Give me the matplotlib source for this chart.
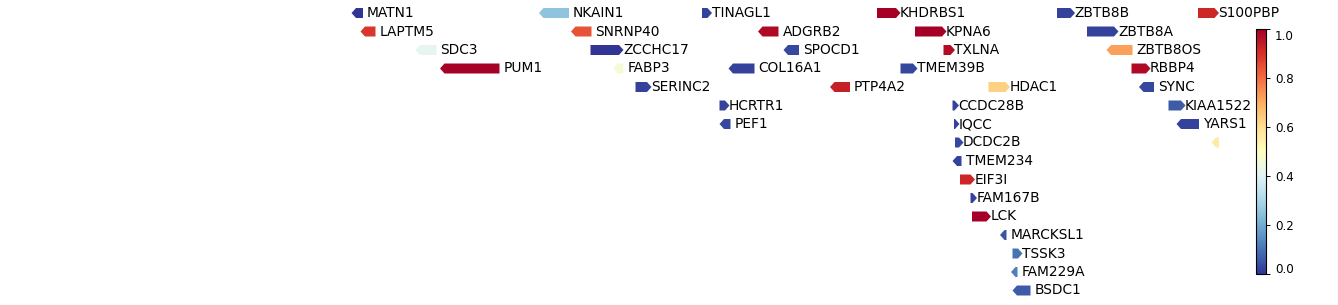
import matplotlib
matplotlib.use("Agg")
import matplotlib.pyplot as plt
import numpy as np
from matplotlib.colors import Normalize
from matplotlib.cm import ScalarMappable
from matplotlib.transforms import ScaledTranslation

# gene tracks: name, start, end (x units), strand, row, score
genes = ['MATN1', 'NKAIN1', 'TINAGL1', 'KHDRBS1', 'ZBTB8B', 'S100PBP',
         'LAPTM5', 'SNRNP40', 'ADGRB2', 'KPNA6', 'ZBTB8A',
         'SDC3', 'ZCCHC17', 'SPOCD1', 'TXLNA', 'ZBTB8OS',
         'PUM1', 'FABP3', 'COL16A1', 'TMEM39B', 'RBBP4',
         'SERINC2', 'PTP4A2', 'HDAC1', 'SYNC',
         'HCRTR1', 'CCDC28B', 'KIAA1522',
         'PEF1', 'IQCC', 'YARS1',
         'DCDC2B', '',
         'TMEM234', 'EIF3I', 'FAM167B', 'LCK', 'MARCKSL1', 'TSSK3', 'FAM229A', 'BSDC1']
starts = [356, 543.5, 702, 877, 1057, 1198,
          365, 575.5, 762.5, 915, 1087,
          420, 590.5, 788, 943.5, 1111,
          444.5, 618, 733, 900.5, 1131.5,
          635.5, 834.5, 988.5, 1143.5,
          719.5, 952.5, 1168.5,
          724, 954, 1181,
          955, 1216,
          957, 960, 970.5, 972, 1004.5, 1012.5, 1015.5, 1017]
ends = [363, 569, 707.5, 896, 1070.5, 1214.5,
        375.5, 591.5, 778.5, 942, 1114,
        436.5, 619, 799, 950.5, 1132.5,
        499.5, 623.5, 754.5, 913, 1146,
        647, 850, 1005.5, 1154,
        725, 954.5, 1181,
        730.5, 955, 1199,
        959, 1219,
        961.5, 970.5, 972.5, 986.5, 1006.5, 1018, 1017.5, 1030.5]
strands = ['-', '-', '+', '+', '+', '+',
           '-', '-', '-', '+', '+',
           '-', '+', '-', '+', '-',
           '-', '-', '-', '+', '+',
           '+', '-', '+', '-',
           '+', '+', '+',
           '-', '+', '-',
           '+', '-',
           '-', '+', '+', '+', '-', '+', '-', '-']
rows = [0, 0, 0, 0, 0, 0,
        1, 1, 1, 1, 1,
        2, 2, 2, 2, 2,
        3, 3, 3, 3, 3,
        4, 4, 4, 4,
        5, 5, 5,
        6, 6, 6,
        7, 7,
        8, 9, 10, 11, 12, 13, 14, 15]
scores = [0.0, 0.25, 0.02, 1.0, 0.02, 0.92,
          0.89, 0.84, 0.98, 1.0, 0.02,
          0.42, 0.0, 0.03, 0.97, 0.72,
          1.0, 0.46, 0.02, 0.03, 0.98,
          0.02, 0.93, 0.63, 0.03,
          0.02, 0.02, 0.06,
          0.03, 0.02, 0.02,
          0.03, 0.56,
          0.02, 0.92, 0.02, 1.0, 0.05, 0.1, 0.12, 0.06]

W, H = 1338, 305
fig = plt.figure(figsize=(W / 100, H / 100), dpi=100)
ax = fig.add_axes([0, 0, 1, 1])
ax.set_xlim(0, W)
row_top, row_step = 13, 18.5  # pixel position of first row and spacing
ax.set_ylim((H - row_top) / row_step, -row_top / row_step)
ax.set_axis_off()

cmap = plt.get_cmap('RdYlBu_r')
norm = Normalize(0, 1)
hl = 4.5      # arrow head length
bw = 0.54     # arrow thickness (rows)

for name, s, e, st, r, v in zip(genes, starts, ends, strands, rows, scores):
    c = cmap(norm(v))
    if st == '+':
        ax.arrow(s, r, e - s, 0, width=bw, head_width=bw, head_length=hl,
                 length_includes_head=False, color=c, lw=0)
    else:
        ax.arrow(e, r, -(e - s), 0, width=bw, head_width=bw, head_length=hl,
                 length_includes_head=False, color=c, lw=0)
    if name:
        ax.text(e + 4, r, name, va='center', ha='left', fontsize=9.9)

# colorbar
cax = fig.add_axes([1256 / W, (H - 274) / H, 10 / W, 245 / H])
cb = fig.colorbar(ScalarMappable(norm=norm, cmap=cmap), cax=cax)
cb.ax.tick_params(labelsize=8.6, length=3, width=0.7)
cb.outline.set_linewidth(0.8)

# end labels sit a little inside the bar
fig.canvas.draw()
ticks = cb.ax.yaxis.get_major_ticks()
sh = 6 / 100
ticks[0].label2.set_transform(ticks[0].label2.get_transform()
                              + ScaledTranslation(0, sh, fig.dpi_scale_trans))
ticks[-1].label2.set_transform(ticks[-1].label2.get_transform()
                               + ScaledTranslation(0, -sh, fig.dpi_scale_trans))

fig.savefig('out.png', dpi=100)
